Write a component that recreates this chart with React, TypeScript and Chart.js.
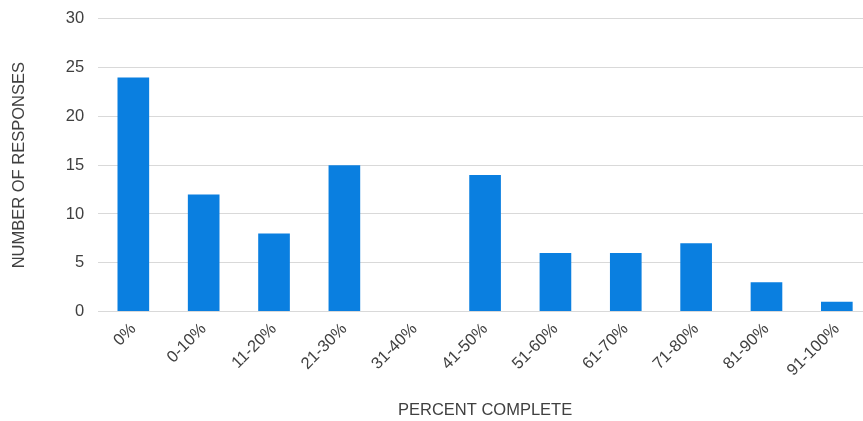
import React, { useEffect, useRef } from "react";
import { Chart, registerables } from "chart.js";

Chart.register(...registerables);

const categories = ["0%", "0-10%", "11-20%", "21-30%", "31-40%", "41-50%", "51-60%", "61-70%", "71-80%", "81-90%", "91-100%"];
const responses = [24, 12, 8, 15, 0, 14, 6, 6, 7, 3, 1];
const yTitle = "NUMBER OF RESPONSES";
const xTitle = "PERCENT COMPLETE";

export default function App() {
  const ref = useRef<HTMLCanvasElement | null>(null);
  useEffect(() => {
    if (!ref.current) return;
    const font = { family: "Liberation Sans, Arial, sans-serif", size: 16.5 };
    const chart = new Chart(ref.current, {
      type: "bar",
      data: {
        labels: categories,
        datasets: [
          {
            data: responses,
            backgroundColor: "#0a7fe0",
            categoryPercentage: 1,
            barPercentage: 0.45,
          },
        ],
      },
      options: {
        animation: false,
        responsive: false,
        maintainAspectRatio: false,
        layout: { padding: { left: 10, top: 0, right: 0, bottom: 1 } },
        plugins: { legend: { display: false }, tooltip: { enabled: false } },
        scales: {
          x: {
            grid: { display: false, drawTicks: false },
            border: { color: "#d9d9d9", width: 1 },
            ticks: { color: "#404040", font, maxRotation: 45, minRotation: 45, padding: 8 },
            title: { display: true, text: xTitle, color: "#404040", font, padding: { top: 12, bottom: 0 } },
          },
          y: {
            min: 0,
            max: 30,
            grid: { color: "#d9d9d9", drawTicks: false },
            border: { display: false },
            ticks: { stepSize: 5, color: "#404040", font, padding: 14 },
            title: { display: true, text: yTitle, color: "#404040", font, padding: { top: 0, bottom: 22 } },
          },
        },
      },
    });
    return () => chart.destroy();
  }, []);
  return (
    <div style={{ position: "fixed", left: 0, top: 0, width: 863, height: 421, overflow: "hidden", background: "#fff" }}>
      <canvas ref={ref} width={872} height={426} style={{ width: 872, height: 426, display: "block", marginTop: -5 }} />
    </div>
  );
}
